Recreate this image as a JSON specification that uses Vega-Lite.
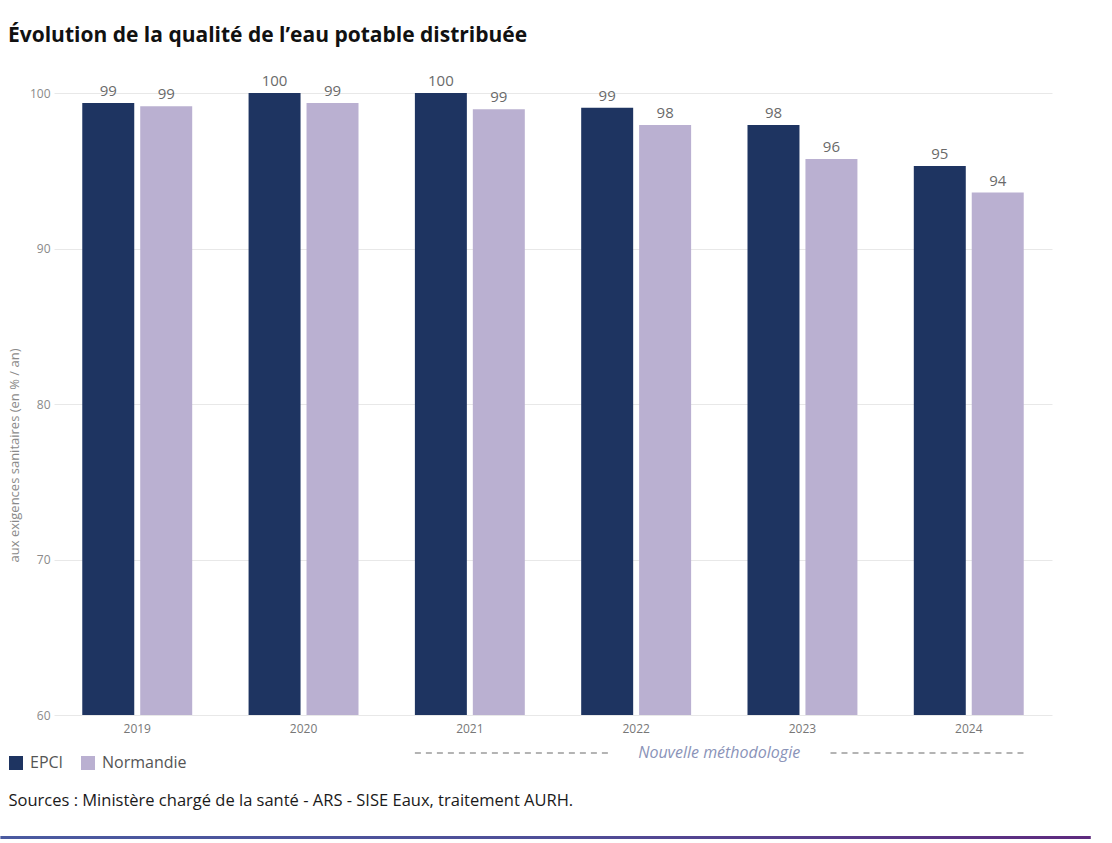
{
  "$schema": "https://vega.github.io/schema/vega-lite/v6.json",
  "width": 998,
  "height": 622,
  "autosize": "none",
  "padding": {"left": 54, "top": 93, "right": 60, "bottom": 128},
  "background": "white",
  "title": {
    "text": "Évolution de la qualité de l’eau potable distribuée",
    "anchor": "start",
    "frame": "group",
    "dx": -46,
    "offset": 28,
    "font": "Open Sans",
    "fontSize": 21,
    "fontWeight": "bold",
    "color": "#111111"
  },
  "datasets": {
    "bars": [
      {"annee": "2019", "territoire": "EPCI", "valeur": 99.35},
      {"annee": "2019", "territoire": "Normandie", "valeur": 99.15},
      {"annee": "2020", "territoire": "EPCI", "valeur": 100.0},
      {"annee": "2020", "territoire": "Normandie", "valeur": 99.35},
      {"annee": "2021", "territoire": "EPCI", "valeur": 100.0},
      {"annee": "2021", "territoire": "Normandie", "valeur": 98.95},
      {"annee": "2022", "territoire": "EPCI", "valeur": 99.05},
      {"annee": "2022", "territoire": "Normandie", "valeur": 97.95},
      {"annee": "2023", "territoire": "EPCI", "valeur": 97.95},
      {"annee": "2023", "territoire": "Normandie", "valeur": 95.75},
      {"annee": "2024", "territoire": "EPCI", "valeur": 95.3},
      {"annee": "2024", "territoire": "Normandie", "valeur": 93.6}
    ],
    "annot": [
      {"debut": "2021", "fin": "2024", "centre": "2022", "suite": "2023", "libelle": "Nouvelle méthodologie", "base": 60}
    ],
    "cadre": [
      {"gauche": "2019", "droite": "2024", "base": 60}
    ]
  },
  "layer": [
    {
      "data": {"name": "bars"},
      "mark": {"type": "bar", "clip": true},
      "encoding": {
        "x": {
          "field": "annee", "type": "nominal", "sort": ["2019","2020","2021","2022","2023","2024"],
          "scale": {"paddingInner": 0.339, "paddingOuter": 0.17},
          "axis": {
            "title": "Sources : Ministère chargé de la santé - ARS - SISE Eaux, traitement AURH.",
            "titleX": -46, "titleY": 85, "titleAlign": "left", "titleAnchor": "start", "titleBaseline": "middle",
            "titleFont": "Open Sans", "titleFontSize": 16.5, "titleFontWeight": "normal", "titleColor": "#1a1a1a",
            "labelAngle": 0, "labelFont": "Open Sans", "labelFontSize": 12, "labelColor": "#777777",
            "labelPadding": 8, "ticks": false, "domain": false, "grid": false
          }
        },
        "xOffset": {"field": "territoire", "type": "nominal", "scale": {"paddingInner": 0.103, "paddingOuter": 0}},
        "y": {
          "field": "valeur", "type": "quantitative",
          "scale": {"domain": [60, 100], "zero": false, "nice": false},
          "axis": {
            "title": "aux exigences sanitaires  (en % / an)",
            "titleFont": "Open Sans", "titleFontSize": 13, "titleFontWeight": "normal", "titleColor": "#8a8a8a",
            "titlePadding": 8, "titleY": 362, "titleAlign": "center",
            "values": [60, 70, 80, 90, 100],
            "labelFont": "Open Sans", "labelFontSize": 12, "labelColor": "#8a8a8a", "labelPadding": 4,
            "ticks": false, "domain": false, "grid": true, "gridColor": "#e8e8e8", "gridWidth": 1
          }
        },
        "color": {
          "field": "territoire", "type": "nominal",
          "scale": {"domain": ["EPCI", "Normandie"], "range": ["#1e3461", "#bab0d1"]},
          "legend": {
            "title": null, "orient": "none", "legendX": -46, "legendY": 662, "direction": "horizontal",
            "symbolType": "square", "symbolSize": 196, "symbolStrokeWidth": 0, "labelOffset": 6,
            "labelFont": "Open Sans", "labelFontSize": 16, "labelColor": "#555555", "columnPadding": 16, "symbolOffset": 0
          }
        }
      }
    },
    {
      "data": {"name": "bars"},
      "mark": {"type": "text", "baseline": "bottom", "dy": -4, "font": "Open Sans", "fontSize": 15, "color": "#6a6a6a"},
      "encoding": {
        "x": {"field": "annee", "type": "nominal", "sort": ["2019","2020","2021","2022","2023","2024"]},
        "xOffset": {"field": "territoire", "type": "nominal"},
        "y": {"field": "valeur", "type": "quantitative"},
        "text": {"field": "valeur", "type": "quantitative", "format": ".0f"}
      }
    },
    {
      "data": {"name": "annot"},
      "mark": {"type": "rule", "strokeDash": [6, 5], "color": "#6a6a6a", "strokeWidth": 1.2, "yOffset": 38},
      "encoding": {
        "x": {"field": "debut", "type": "nominal", "bandPosition": 0},
        "x2": {"field": "centre", "bandPosition": 0.245},
        "y": {"field": "base", "type": "quantitative"}
      }
    },
    {
      "data": {"name": "annot"},
      "mark": {"type": "rule", "strokeDash": [6, 5], "color": "#6a6a6a", "strokeWidth": 1.2, "yOffset": 38},
      "encoding": {
        "x": {"field": "suite", "type": "nominal", "bandPosition": 0.755},
        "x2": {"field": "fin", "bandPosition": 1},
        "y": {"field": "base", "type": "quantitative"}
      }
    },
    {
      "data": {"name": "annot"},
      "mark": {"type": "text", "dy": 38, "baseline": "middle", "font": "Open Sans", "fontSize": 16, "fontStyle": "italic", "color": "#8a93b8"},
      "encoding": {
        "x": {"field": "centre", "type": "nominal", "bandPosition": 1.255},
        "y": {"field": "base", "type": "quantitative"},
        "text": {"field": "libelle"}
      }
    },
    {
      "data": {"name": "cadre"},
      "mark": {
        "type": "rect", "yOffset": 121, "y2Offset": 124,
        "fill": {"gradient": "linear", "x1": 0, "x2": 1, "y1": 0, "y2": 0,
                 "stops": [{"offset": 0, "color": "#4a5aa0"}, {"offset": 0.5, "color": "#4f4f98"}, {"offset": 1, "color": "#5e2a7e"}]}
      },
      "encoding": {
        "x": {"field": "gauche", "type": "nominal", "bandPosition": -0.745},
        "x2": {"field": "droite", "bandPosition": 1.61},
        "y": {"field": "base", "type": "quantitative"},
        "y2": {"field": "base"}
      }
    }
  ],
  "config": {
    "view": {"stroke": null}
  }
}
